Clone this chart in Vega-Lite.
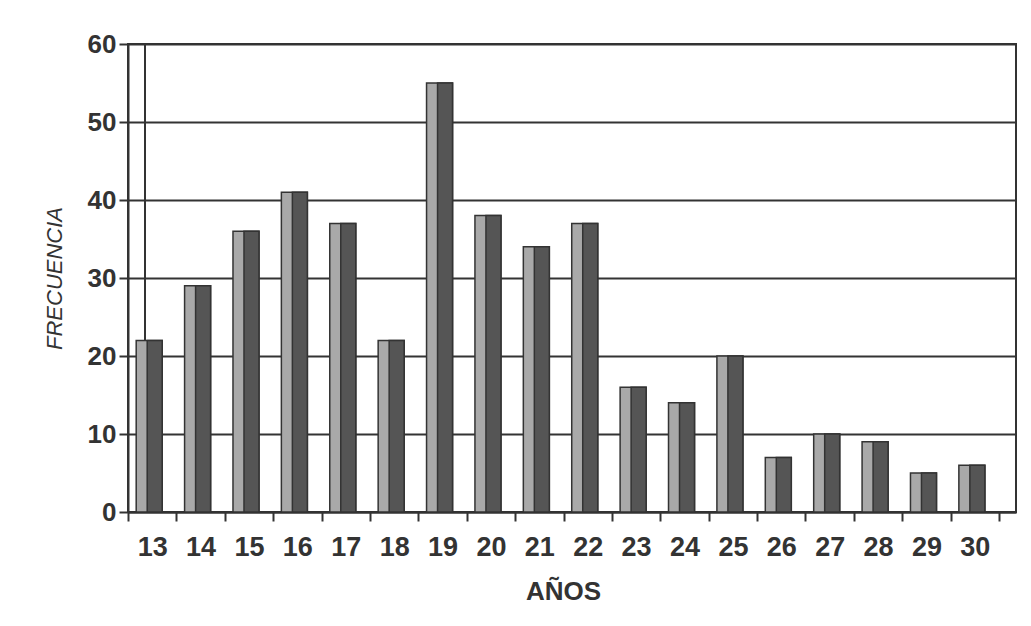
{
  "$schema": "https://vega.github.io/schema/vega-lite/v6.json",
  "autosize": "none",
  "width": 888,
  "height": 468,
  "padding": {"left": 128, "top": 44, "right": 15, "bottom": 114},
  "background": "#ffffff",
  "config": {
    "view": {"stroke": "#333333", "strokeWidth": 2},
    "axis": {"labelFont": "Liberation Sans", "titleFont": "Liberation Sans", "labelColor": "#333333", "titleColor": "#333333", "domainColor": "#333333", "tickColor": "#333333", "domainWidth": 2, "tickWidth": 2}
  },
  "data": {"values": [
    {"anio": 13, "frecuencia": 22},
    {"anio": 14, "frecuencia": 29},
    {"anio": 15, "frecuencia": 36},
    {"anio": 16, "frecuencia": 41},
    {"anio": 17, "frecuencia": 37},
    {"anio": 18, "frecuencia": 22},
    {"anio": 19, "frecuencia": 55},
    {"anio": 20, "frecuencia": 38},
    {"anio": 21, "frecuencia": 34},
    {"anio": 22, "frecuencia": 37},
    {"anio": 23, "frecuencia": 16},
    {"anio": 24, "frecuencia": 14},
    {"anio": 25, "frecuencia": 20},
    {"anio": 26, "frecuencia": 7},
    {"anio": 27, "frecuencia": 10},
    {"anio": 28, "frecuencia": 9},
    {"anio": 29, "frecuencia": 5},
    {"anio": 30, "frecuencia": 6}
  ]},
  "encoding": {
    "x": {
      "field": "anio", "type": "ordinal",
      "scale": {"paddingInner": 0, "paddingOuter": 0.175, "align": 0},
      "axis": {"title": "AÑOS", "labelAngle": 0, "labelFontSize": 27, "labelFontWeight": "bold", "labelPadding": 13, "tickBand": "extent", "tickSize": 9, "titleFontSize": 26, "titleFontWeight": "bold", "titlePadding": 18, "titleX": 435, "titleAnchor": "middle", "grid": false}
    },
    "y": {
      "field": "frecuencia", "type": "quantitative",
      "scale": {"domain": [0, 60], "nice": false},
      "axis": {"title": "FRECUENCIA", "values": [0, 10, 20, 30, 40, 50, 60], "labelFontSize": 26, "labelFontWeight": "bold", "labelPadding": 3, "tickSize": 9, "titleFontSize": 22, "titleFontWeight": "normal", "titleFontStyle": "italic", "titlePadding": 21, "grid": true, "gridColor": "#333333", "gridWidth": 2, "gridOpacity": 1}
    }
  },
  "layer": [
    {
      "transform": [{"filter": "datum.anio == 13"}],
      "mark": {"type": "rule", "stroke": "#333333", "strokeWidth": 2, "xOffset": 17},
      "encoding": {
        "x": {"field": "anio", "type": "ordinal", "bandPosition": 0},
        "y": {"datum": 60},
        "y2": {"datum": 0}
      }
    },
    {"mark": {"type": "bar", "width": 26, "xOffset": -3, "fill": "#a9a9a9", "stroke": "#333333", "strokeWidth": 1.5, "opacity": 1}},
    {"mark": {"type": "bar", "width": 15, "xOffset": 2.5, "fill": "#555555", "stroke": "#333333", "strokeWidth": 1.5, "opacity": 1}}
  ]
}
